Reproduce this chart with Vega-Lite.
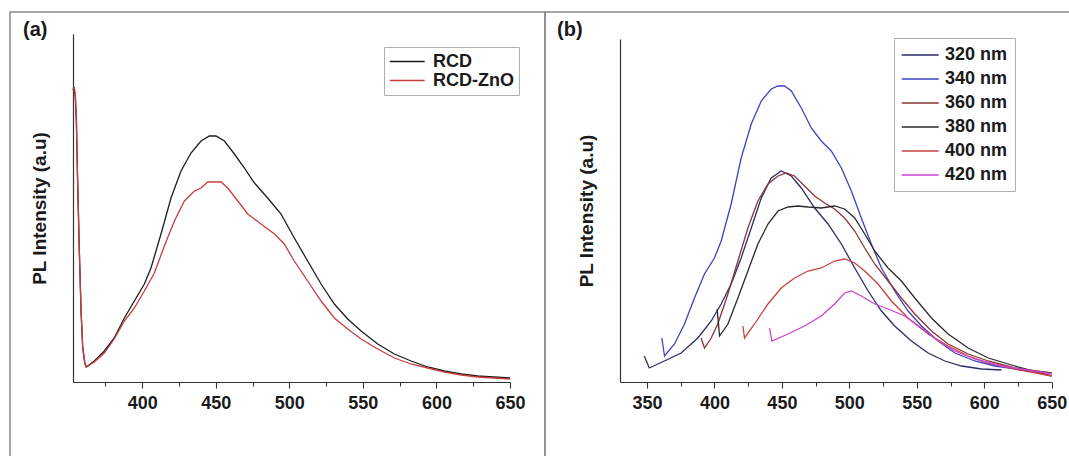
{
  "$schema": "https://vega.github.io/schema/vega-lite/v6.json",
  "padding": {"left": 9, "top": 11, "right": 0, "bottom": 0},
  "background": "white",
  "spacing": 0,
  "bounds": "flush",
  "config": {
    "font": "Liberation Sans",
    "view": {"stroke": "#8a8a8a", "strokeWidth": 1.5},
    "axis": {"domainColor": "#333333", "domainWidth": 1.2, "tickColor": "#333333", "tickWidth": 1.1, "grid": false, "labelFont": "Liberation Sans", "labelFontWeight": "bold", "labelFontSize": 18, "labelColor": "#1a1a1a", "titleFont": "Liberation Sans", "titleFontWeight": "bold", "titleFontSize": 19, "titleColor": "#1a1a1a"},
    "legend": {"labelFont": "Liberation Sans", "labelFontWeight": "bold", "labelColor": "#1a1a1a"}
  },
  "resolve": {"scale": {"x": "independent", "y": "independent", "color": "independent"}, "legend": {"color": "independent"}},
  "hconcat": [
    {
      "width": 535,
      "height": 460,
      "title": {"text": "(a)", "anchor": "start", "frame": "group", "offset": 0, "dx": 13, "dy": 44, "baseline": "alphabetic", "fontSize": 20, "fontWeight": "bold", "color": "#1a1a1a", "font": "Liberation Sans"},
      "data": {"values": [
        {"s":"RCD","x":353,"y":292},{"s":"RCD","x":353.8,"y":295},{"s":"RCD","x":354.6,"y":285},{"s":"RCD","x":355.3,"y":261},{"s":"RCD","x":356,"y":210},{"s":"RCD","x":357.3,"y":131},{"s":"RCD","x":358.5,"y":70},{"s":"RCD","x":359.6,"y":35},{"s":"RCD","x":361,"y":19},{"s":"RCD","x":362,"y":15},
        {"s":"RCD","x":367.5,"y":21},{"s":"RCD","x":374.3,"y":31},{"s":"RCD","x":381,"y":44},{"s":"RCD","x":387.9,"y":64},{"s":"RCD","x":394.7,"y":81},{"s":"RCD","x":401.5,"y":98},{"s":"RCD","x":406,"y":114},{"s":"RCD","x":412.8,"y":148},{"s":"RCD","x":419.6,"y":184},{"s":"RCD","x":426.4,"y":211},{"s":"RCD","x":433.2,"y":229},{"s":"RCD","x":440,"y":241},{"s":"RCD","x":445.7,"y":246},{"s":"RCD","x":450.2,"y":246},{"s":"RCD","x":455.9,"y":241},{"s":"RCD","x":462.7,"y":228},{"s":"RCD","x":469.5,"y":214},{"s":"RCD","x":476.3,"y":199},{"s":"RCD","x":485.3,"y":184},{"s":"RCD","x":494.4,"y":168},{"s":"RCD","x":503.4,"y":144},{"s":"RCD","x":512.5,"y":121},{"s":"RCD","x":521.6,"y":98},{"s":"RCD","x":530.6,"y":78},{"s":"RCD","x":539.7,"y":63},{"s":"RCD","x":548.8,"y":51},{"s":"RCD","x":560.1,"y":38},{"s":"RCD","x":571.4,"y":28},{"s":"RCD","x":582.8,"y":21},{"s":"RCD","x":594.1,"y":15},{"s":"RCD","x":605.4,"y":11},{"s":"RCD","x":616.8,"y":8},{"s":"RCD","x":628.1,"y":6},{"s":"RCD","x":650,"y":4},
        {"s":"RCD-ZnO","x":353,"y":292},{"s":"RCD-ZnO","x":353.8,"y":295},{"s":"RCD-ZnO","x":354.6,"y":285},{"s":"RCD-ZnO","x":355.3,"y":261},{"s":"RCD-ZnO","x":356,"y":210},{"s":"RCD-ZnO","x":357.3,"y":131},{"s":"RCD-ZnO","x":358.5,"y":70},{"s":"RCD-ZnO","x":359.6,"y":35},{"s":"RCD-ZnO","x":361,"y":19},{"s":"RCD-ZnO","x":362,"y":15},
        {"s":"RCD-ZnO","x":367.5,"y":20},{"s":"RCD-ZnO","x":374.3,"y":29},{"s":"RCD-ZnO","x":381,"y":43},{"s":"RCD-ZnO","x":387.9,"y":61},{"s":"RCD-ZnO","x":394.7,"y":74},{"s":"RCD-ZnO","x":401.5,"y":91},{"s":"RCD-ZnO","x":408.3,"y":109},{"s":"RCD-ZnO","x":415.1,"y":136},{"s":"RCD-ZnO","x":421.9,"y":161},{"s":"RCD-ZnO","x":428.7,"y":181},{"s":"RCD-ZnO","x":435.5,"y":191},{"s":"RCD-ZnO","x":440,"y":194},{"s":"RCD-ZnO","x":444.6,"y":200},{"s":"RCD-ZnO","x":453.6,"y":200},{"s":"RCD-ZnO","x":458.2,"y":194},{"s":"RCD-ZnO","x":465,"y":181},{"s":"RCD-ZnO","x":471.8,"y":168},{"s":"RCD-ZnO","x":480.8,"y":158},{"s":"RCD-ZnO","x":489.9,"y":148},{"s":"RCD-ZnO","x":496.6,"y":138},{"s":"RCD-ZnO","x":503.4,"y":121},{"s":"RCD-ZnO","x":512.5,"y":101},{"s":"RCD-ZnO","x":521.6,"y":81},{"s":"RCD-ZnO","x":530.6,"y":64},{"s":"RCD-ZnO","x":539.7,"y":53},{"s":"RCD-ZnO","x":548.8,"y":43},{"s":"RCD-ZnO","x":560.1,"y":33},{"s":"RCD-ZnO","x":571.4,"y":24},{"s":"RCD-ZnO","x":582.8,"y":18},{"s":"RCD-ZnO","x":594.1,"y":14},{"s":"RCD-ZnO","x":605.4,"y":10},{"s":"RCD-ZnO","x":616.8,"y":7},{"s":"RCD-ZnO","x":628.1,"y":5},{"s":"RCD-ZnO","x":650,"y":3}
      ]},
      "mark": {"type": "line", "strokeWidth": 1.3, "clip": false},
      "encoding": {
        "x": {"field": "x", "type": "quantitative", "scale": {"domain": [353, 650], "range": [63, 500], "nice": false, "zero": false},
          "axis": {"orient": "bottom", "offset": -90, "title": null, "values": [375,400,425,450,475,500,525,550,575,600,625,650], "labelExpr": "datum.value % 50 === 0 ? datum.label : ''", "labelOverlap": false, "labelFlush": false, "labelPadding": 6, "tickSize": {"condition": {"test": "datum.value % 50 === 0", "value": 6}, "value": 4}}},
        "y": {"field": "y", "type": "quantitative", "scale": {"domain": [0, 348], "range": [370, 22], "nice": false, "zero": false},
          "axis": {"orient": "left", "offset": -63, "labels": false, "ticks": false, "title": "PL Intensity (a.u)", "titlePadding": 24}},
        "color": {"field": "s", "type": "nominal", "sort": ["RCD", "RCD-ZnO"],
          "scale": {"domain": ["RCD", "RCD-ZnO"], "range": ["#1c1c1c", "#c83c3c"]},
          "legend": {"orient": "none", "legendX": 374, "legendY": 35, "title": null, "symbolType": "M-1,0H3", "symbolSize": 306, "symbolStrokeWidth": 1.5, "labelFontSize": 18, "labelOffset": 25, "strokeColor": "#b0b0b0", "fillColor": "white", "padding": 5, "rowPadding": 0}}
      }
    },
    {
      "width": 530,
      "height": 460,
      "title": {"text": "(b)", "anchor": "start", "frame": "group", "offset": 0, "dx": 12, "dy": 44, "baseline": "alphabetic", "fontSize": 20, "fontWeight": "bold", "color": "#1a1a1a", "font": "Liberation Sans"},
      "data": {"values": [
        {"s":"320 nm","x":348,"y":26},{"s":"320 nm","x":351.7,"y":14},{"s":"320 nm","x":362.9,"y":21},{"s":"320 nm","x":375.3,"y":29},{"s":"320 nm","x":387.7,"y":44},{"s":"320 nm","x":397.6,"y":61},{"s":"320 nm","x":405,"y":78},{"s":"320 nm","x":412.4,"y":98},{"s":"320 nm","x":419.8,"y":124},{"s":"320 nm","x":427.3,"y":154},{"s":"320 nm","x":434.7,"y":184},{"s":"320 nm","x":442.1,"y":204},{"s":"320 nm","x":449.5,"y":211},{"s":"320 nm","x":457,"y":206},{"s":"320 nm","x":464.4,"y":194},{"s":"320 nm","x":474.3,"y":174},{"s":"320 nm","x":484.2,"y":158},{"s":"320 nm","x":494.1,"y":138},{"s":"320 nm","x":504,"y":114},{"s":"320 nm","x":513.9,"y":91},{"s":"320 nm","x":523.8,"y":71},{"s":"320 nm","x":533.6,"y":56},{"s":"320 nm","x":546,"y":41},{"s":"320 nm","x":558.4,"y":29},{"s":"320 nm","x":570.8,"y":21},{"s":"320 nm","x":583.2,"y":16},{"s":"320 nm","x":598,"y":13},{"s":"320 nm","x":612.8,"y":12},
        {"s":"340 nm","x":361,"y":44},{"s":"340 nm","x":363,"y":26},{"s":"340 nm","x":370.4,"y":38},{"s":"340 nm","x":377.8,"y":58},{"s":"340 nm","x":385.2,"y":84},{"s":"340 nm","x":392.6,"y":108},{"s":"340 nm","x":400,"y":124},{"s":"340 nm","x":405,"y":141},{"s":"340 nm","x":412.4,"y":178},{"s":"340 nm","x":419.8,"y":224},{"s":"340 nm","x":427.3,"y":258},{"s":"340 nm","x":434.7,"y":281},{"s":"340 nm","x":442.1,"y":293},{"s":"340 nm","x":447.1,"y":296},{"s":"340 nm","x":452,"y":296},{"s":"340 nm","x":457,"y":291},{"s":"340 nm","x":464.4,"y":274},{"s":"340 nm","x":471.8,"y":254},{"s":"340 nm","x":479.2,"y":241},{"s":"340 nm","x":486.6,"y":231},{"s":"340 nm","x":494.1,"y":214},{"s":"340 nm","x":501.5,"y":191},{"s":"340 nm","x":508.9,"y":164},{"s":"340 nm","x":516.3,"y":138},{"s":"340 nm","x":523.8,"y":114},{"s":"340 nm","x":533.6,"y":91},{"s":"340 nm","x":543.5,"y":71},{"s":"340 nm","x":553.5,"y":56},{"s":"340 nm","x":565.8,"y":41},{"s":"340 nm","x":578.2,"y":29},{"s":"340 nm","x":593,"y":21},{"s":"340 nm","x":607.9,"y":16},{"s":"340 nm","x":627.7,"y":12},{"s":"340 nm","x":650,"y":9},
        {"s":"360 nm","x":390.1,"y":44},{"s":"360 nm","x":392.6,"y":34},{"s":"360 nm","x":397.6,"y":44},{"s":"360 nm","x":402.5,"y":58},{"s":"360 nm","x":410,"y":88},{"s":"360 nm","x":417.4,"y":121},{"s":"360 nm","x":424.8,"y":154},{"s":"360 nm","x":432.2,"y":181},{"s":"360 nm","x":439.7,"y":198},{"s":"360 nm","x":447.1,"y":206},{"s":"360 nm","x":453.2,"y":209},{"s":"360 nm","x":459.4,"y":206},{"s":"360 nm","x":466.8,"y":196},{"s":"360 nm","x":474.3,"y":186},{"s":"360 nm","x":481.7,"y":179},{"s":"360 nm","x":489.1,"y":173},{"s":"360 nm","x":496.5,"y":164},{"s":"360 nm","x":504,"y":151},{"s":"360 nm","x":511.4,"y":134},{"s":"360 nm","x":518.8,"y":118},{"s":"360 nm","x":528.7,"y":101},{"s":"360 nm","x":538.6,"y":84},{"s":"360 nm","x":548.5,"y":68},{"s":"360 nm","x":560.9,"y":51},{"s":"360 nm","x":573.2,"y":38},{"s":"360 nm","x":588.1,"y":28},{"s":"360 nm","x":603,"y":21},{"s":"360 nm","x":622.7,"y":14},{"s":"360 nm","x":650,"y":9},
        {"s":"380 nm","x":402,"y":73},{"s":"380 nm","x":403.8,"y":46},{"s":"380 nm","x":410,"y":58},{"s":"380 nm","x":417.4,"y":84},{"s":"380 nm","x":424.8,"y":111},{"s":"380 nm","x":432.2,"y":138},{"s":"380 nm","x":439.7,"y":158},{"s":"380 nm","x":447.1,"y":171},{"s":"380 nm","x":454.5,"y":175},{"s":"380 nm","x":461.9,"y":176},{"s":"380 nm","x":469.4,"y":175},{"s":"380 nm","x":479.2,"y":174},{"s":"380 nm","x":489.1,"y":176},{"s":"380 nm","x":496.5,"y":173},{"s":"380 nm","x":504,"y":164},{"s":"380 nm","x":511.4,"y":148},{"s":"380 nm","x":518.8,"y":131},{"s":"380 nm","x":528.7,"y":114},{"s":"380 nm","x":538.6,"y":101},{"s":"380 nm","x":548.5,"y":84},{"s":"380 nm","x":560.9,"y":64},{"s":"380 nm","x":573.2,"y":48},{"s":"380 nm","x":588.1,"y":34},{"s":"380 nm","x":603,"y":24},{"s":"380 nm","x":622.7,"y":16},{"s":"380 nm","x":650,"y":6},
        {"s":"400 nm","x":421.1,"y":56},{"s":"400 nm","x":422.3,"y":44},{"s":"400 nm","x":429.7,"y":58},{"s":"400 nm","x":439.7,"y":78},{"s":"400 nm","x":449.5,"y":94},{"s":"400 nm","x":459.4,"y":104},{"s":"400 nm","x":469.4,"y":111},{"s":"400 nm","x":479.2,"y":114},{"s":"400 nm","x":489.1,"y":121},{"s":"400 nm","x":496.5,"y":123},{"s":"400 nm","x":504,"y":119},{"s":"400 nm","x":511.4,"y":111},{"s":"400 nm","x":521.3,"y":98},{"s":"400 nm","x":531.2,"y":81},{"s":"400 nm","x":543.5,"y":64},{"s":"400 nm","x":558.4,"y":48},{"s":"400 nm","x":573.2,"y":36},{"s":"400 nm","x":588.1,"y":26},{"s":"400 nm","x":603,"y":19},{"s":"400 nm","x":622.7,"y":13},{"s":"400 nm","x":650,"y":6},
        {"s":"420 nm","x":440.8,"y":54},{"s":"420 nm","x":442.6,"y":41},{"s":"420 nm","x":454.5,"y":48},{"s":"420 nm","x":466.8,"y":56},{"s":"420 nm","x":479.2,"y":66},{"s":"420 nm","x":489.1,"y":78},{"s":"420 nm","x":496.5,"y":89},{"s":"420 nm","x":501.5,"y":91},{"s":"420 nm","x":508.9,"y":86},{"s":"420 nm","x":518.8,"y":78},{"s":"420 nm","x":528.7,"y":73},{"s":"420 nm","x":541.1,"y":66},{"s":"420 nm","x":553.5,"y":54},{"s":"420 nm","x":565.8,"y":41},{"s":"420 nm","x":578.2,"y":31},{"s":"420 nm","x":593,"y":23},{"s":"420 nm","x":612.8,"y":16},{"s":"420 nm","x":632.6,"y":12},{"s":"420 nm","x":650,"y":8}
      ]},
      "mark": {"type": "line", "strokeWidth": 1.3, "clip": false},
      "encoding": {
        "x": {"field": "x", "type": "quantitative", "scale": {"domain": [330, 650], "range": [75, 506.7], "nice": false, "zero": false},
          "axis": {"orient": "bottom", "offset": -90, "title": null, "values": [350,375,400,425,450,475,500,525,550,575,600,625,650], "labelExpr": "datum.value % 50 === 0 ? datum.label : ''", "labelOverlap": false, "labelFlush": false, "labelPadding": 6, "tickSize": {"condition": {"test": "datum.value % 50 === 0", "value": 6}, "value": 4}}},
        "y": {"field": "y", "type": "quantitative", "scale": {"domain": [0, 343], "range": [370, 27], "nice": false, "zero": false},
          "axis": {"orient": "left", "offset": -75, "labels": false, "ticks": false, "title": "PL Intensity (a.u)", "titlePadding": 24}},
        "color": {"field": "s", "type": "nominal",
          "scale": {"domain": ["320 nm", "340 nm", "360 nm", "380 nm", "400 nm", "420 nm"], "range": ["#2c2c6a", "#4040c0", "#8a3535", "#2a2a2a", "#c84040", "#cc44cc"]},
          "legend": {"orient": "none", "legendX": 349, "legendY": 26, "title": null, "symbolType": "M-1,0H3", "symbolSize": 342, "symbolStrokeWidth": 1.5, "labelFontSize": 18, "labelOffset": 24, "strokeColor": "#b0b0b0", "fillColor": "white", "padding": 7, "rowPadding": 5}}
      }
    }
  ]
}
